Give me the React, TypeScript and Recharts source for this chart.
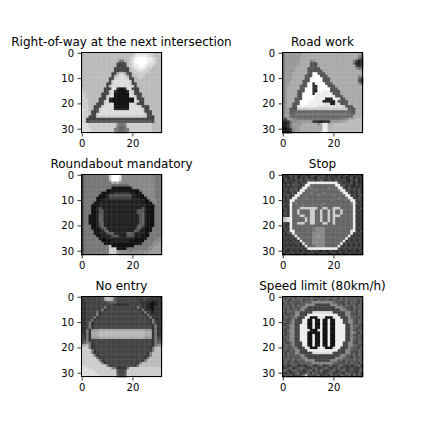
import React from 'react'
import { ScatterChart, Scatter, XAxis, YAxis } from 'recharts'

// 32x32 grey levels per sign, one hex digit per pixel (0 = black, f = white)
const rightOfWay = [
  'abbbbbbb bbbbbbbb bbbbbcdd dddccbbb',
  'abbbbbbb bbbbbbbb bbbbcdee eeddcbbb',
  'abbbbbbb bbbbbbbb bbbcdeff ffeedcbb',
  'abbbbbbb bbbbbbb7 7bbcdfff ffeedcbb',
  'abbbbbbb bbbbbb54 45bcdeff ffeddcbb',
  'abbbbbbb bbbbbb44 44bcdeef feddcbbb',
  'abbbbbbb bbbbb444 444bcdee edccbbbb',
  'abbbbbbb bbbbb445 544bccdd dccbbbbb',
  'abbbbbbb bbbb44ac ca44bccc ccbbbbbb',
  'abbbbbbb bbbb4acd dca4bbcc cbbbbbbb',
  'abbbbbbb bbb44cdd ddc44bbc bbbbbbbb',
  'abbbbbbb bbb4cddd dddc4bbb bbbbbbbb',
  'abbbbbbb bb44cddd dddc44bb bbbbbbbb',
  'abbbbbbb bb4cdddd ddddc4bb bbbbbbbb',
  'bbbbbbbb b444dd31 13dd444b bbbbbbbb',
  'cbbbbbbb b44cd311 113dc44b bbbbbbbb',
  'ccbbbbbb 444cd111 111dc444 bbbbbbbb',
  'ccbbbbbb 44cdd111 111ddc44 bbbbbbbb',
  'cccbbbb4 44d21111 11111d44 4bbbbbbb',
  'cccbbbb4 4cd21111 11111dc4 4bbbbbbb',
  'cccbbb44 4cddd111 111ddc44 4bbbbbbb',
  'cccbb444 cdddd111 111ddddc 444bbbbb',
  'dccbb44c ddddd222 222ddddd c44bbbbb',
  'dccb444c dddddddd dddddddd c444bbbb',
  'dccc44cd dddddddd dddddddd dc44bbbb',
  'dcc444cc cccccccc cccccccc cc444bbb',
  'dc444444 44444444 44444444 44444bbb',
  'dc455555 55555555 55555555 55554bbb',
  'dddccccc cccccc87 78cccccc ccccbbbb',
  'dddccccc cccccc76 67cccccc ccccbbbb',
  'ddddcccc ccccc776 677ccccc ccccbbbb',
  'ddddcccc ccccc876 678ccccc ccccbbba',
]

const roadWork = [
  '69999999 aaaaaaaa aaaaaaaa aaaaaaa8',
  '69999999 aaaaaaaa aaaaaaaa aaaaaa87',
  '6999999a aaaaaaaa aaaaaaaa aaaaaa75',
  '6999999a aaa88aaa aaaaaaaa aaaa8423',
  '6999999a aaa555aa aaaaaaaa aaaa6223',
  '699999aa aaa555aa aaaaaaaa aaaaa434',
  '69999aaa aa55555a aaaaaaaa aaaaa867',
  '69999aaa aa555555 aaaaaaaa aaaaaaa9',
  '6999aaaa aa55ff55 5aaaaaaa aaaaaaaa',
  '6999aaaa a555fff5 55aaaaaa aaaaaa89',
  '6999aaaa a55fffff 555aaaaa aaaaaa64',
  '699aaaaa 555fffff 555aaaaa aaaaaa53',
  '699aaaaa 55ff3fff f555aaaa aaaaaa86',
  '69aaaaa5 55ff33ff ff555aaa aaaaaaaa',
  '69aaaaa5 5fff33ff fff555aa aaaaaaaa',
  '69aaaa55 5fff32ff eee5555a aaaaaaaa',
  '69aaaa55 ffff3fee eeee555a aaaaaaaa',
  '69aaaa55 fffffeee eeeee555 aaaaaaaa',
  '69aaa555 fffffeee e222eed5 5aaaaaaa',
  '69aaa55f fffeeeee 22222d55 55aaaaaa',
  '69aa555f ffeeeeee edd22dd5 55aaaaaa',
  '69aa55ee eeeeeedd dddddddd c555aaaa',
  '699555cc cccccccc cccccccc cc555aaa',
  '69955666 66666666 66666666 66655aaa',
  '69966777 77777777 77777777 77766aaa',
  '69966666 66666666 66666666 6666aaaa',
  '44998877 77777777 77777777 88aaabbb',
  '22378899 99993322 23399999 aabbbbbb',
  '22379999 aaaaaa8a eeaabbbb bbbbbbbb',
  '1237999a aaaaaaaa eebbbbbb bbbbbbbb',
  '1124899a aaaaaaaa eebbbbbb bbbbbbbb',
  '2113899a aaaaaaab febbbbbb bbbbbbbb',
]

const roundabout = [
  '37777777 777cfffd 88888888 88888777',
  '37777777 777cfffd 88888888 88888777',
  '37777777 777bfffc 88888888 88888777',
  '37777777 7777a9a8 88888888 88888777',
  '37777777 77776666 66688888 88888777',
  '37777777 77771111 11117888 88888777',
  '37777777 77111111 11111117 88888777',
  '37777777 11122333 33322111 88888777',
  '37777771 11255555 55552211 18888777',
  '37777711 12244444 44442221 11888777',
  '37777711 22222222 22222222 21178877',
  '37777112 22222222 22222222 21117877',
  '37771112 22222222 22222222 22111777',
  '37771125 22222222 22222222 52111777',
  '37771125 52222222 22222255 52111777',
  '37771125 52222222 22222255 62111777',
  '37711126 52222222 22222225 62111777',
  '37711126 52222222 22222225 62111777',
  '37711126 52222222 22222225 62111777',
  '37711125 62222222 22222225 62111777',
  '37771125 62222222 22222256 52111777',
  '37771112 56222222 22222265 21117777',
  '37777112 25622222 22222652 21117777',
  '37777112 22566222 22665222 21177777',
  '37777711 22225552 22555222 11177777',
  '37777771 11222222 22222111 11777788',
  '37777777 11112222 22211111 17777888',
  '37777777 71111111 11111111 77778899',
  '37777777 777c1111 11111777 77788999',
  '37777777 777ccd11 11777777 77889999',
  '37777777 777ccc98 88878888 88899999',
  '37777777 777ccc98 88888888 89999999',
]

const stop = [
  '42353423 43245334 52343243 35234242',
  '34243524 35343254 43534352 42352434',
  '25343445 34544345 43443534 43243523',
  '33434534 45eeeeee eeeeee54 34352433',
  '43535443 4ee66666 66666ee4 53432433',
  '34344535 ee676666 667666ee 43534343',
  '3435453e e6666766 6666667e e4434353',
  '443453ee 66676666 76666666 ee434353',
  '34534ee6 66666676 66667666 6ee34345',
  '5344ee66 67666666 66666676 66ee4353',
  '434ee666 66666666 66676666 666ee343',
  '443e6766 66666666 76666666 6667e534',
  '534e6666 76666667 66666666 6666e343',
  '443e666c cccccc66 cc66ccc6 6666e435',
  '343e66c6 666cc66c 66c6c66c 6666e343',
  '453e66c6 666cc66c 66c6c66c 6666e434',
  '343e666c c66cc66c 66c6ccc6 6666e343',
  'bcde6666 6c6cc66c 66c6c666 6666e434',
  'bcde6666 6c6cc66c 66c6c666 6666e343',
  '443e66cc c66cc666 cc66c666 6666e434',
  '534e6666 66666666 66666666 6666e434',
  '443e6666 66667888 86666666 6666e343',
  '344ee666 66667888 86666666 666ee435',
  '4345e666 66668888 86666666 666e4343',
  '43435e66 66668898 86666666 66e43434',
  '343434e6 66668888 86666666 6e434343',
  '4343443e 66668888 86666666 e3434344',
  '34343443 e6668888 8666666e 34343434',
  '43434343 4e666888 866666e4 34343434',
  '34343434 34eeeeee eeeeee43 43434343',
  '43243342 43243432 42343243 34234234',
  '23434234 32434234 34234324 23432342',
]

const noEntry = [
  '34444444 4abba544 44444434 44433333',
  '34444444 49bb9544 44444443 44333333',
  '33444444 44566644 44444443 33321233',
  '33444444 44444333 33344444 33211233',
  '33444444 47344444 44444374 33211333',
  '33444444 73444444 44444443 73321333',
  '33444473 44444444 44444444 37332333',
  '33444473 44444444 44444444 43733333',
  '33444734 44444444 44444444 44373333',
  '33447344 44444444 44444444 44437333',
  '33473444 44444444 44444444 44437333',
  '33473444 44444444 44444444 44443733',
  '33473444 44444444 44444444 44443733',
  '3373999a aaaaaaaa aaaaaaaa a9993733',
  '3373aaab bbbbbbbb bbbbbbbb baaa3733',
  '4373aaab bbbbbbbb bbbbbbbb baaa3734',
  '4373999a aaaaaaaa aaaaaaaa a9993744',
  '45734444 44444444 44444444 44443755',
  '56873444 44444444 44444444 44443766',
  '9ab73444 44444444 44444444 44443788',
  'ccc73444 44444444 44444444 44437bbb',
  'cccc7344 44444444 44444444 44437bbb',
  'cccc7344 44444444 44444444 4437bbbb',
  'ccccc734 44444444 44444444 4437bbbb',
  'cccccc73 44444444 44444444 437bbbbb',
  'ccccccc7 34444444 44444444 37bbbbbb',
  'cccccccc 73444444 44444437 bbbbbbbb',
  'dccccccc cc734444 4444437b bbbbbbbb',
  'dddccccc cccc7733 337ccccc cccccccc',
  'dddddccc cccccc54 45cccccc cccccccc',
  'ddddddcc cccccc54 45cccccc cccccccc',
  'dddddddc cccccc64 46cccccc cccccccc',
]

const speed80 = [
  '54655465 56465546 45656546 56455465',
  '65546556 45565465 56546556 46556546',
  '56465546 56568888 88886554 56465546',
  '46556465 58888444 44488856 46556465',
  '55646556 88444444 44444888 65546556',
  '64655658 84444444 44444448 86546465',
  '54655884 4444dddd dddd4444 48855465',
  '55465884 44eeeeee eeeeee44 48855465',
  '46556844 4ed111de d111dee4 44865546',
  '55468444 ee11e11e 11e11eee 44885465',
  '55468444 ee11e11e 11e11eee 44885465',
  '5468844e ee11e11e 11e11eee e4485654',
  '6548844e ee11e11e 11e11eee e4486545',
  '5468844e eed111de 11e11eee e4485465',
  '6458844e ee11111e 11e11eee e4488546',
  '5468844e ee11e11e 11e11eee e4485465',
  '4658844e ee11e11e 11e11eee e4486554',
  '5468844e ee11e11e 11e11eee e4485465',
  '55468444 ee11e11e 11e11eee 44885465',
  '46568444 ee11e11e 11e11eee 44886554',
  '56556844 4ed111de d111dee4 44865546',
  '55465884 44eeeeee eeeeee44 48855465',
  '54655884 4444dddd dddd4444 48855465',
  '64655658 84444444 44444448 86546465',
  '55646556 88444444 44444888 65546556',
  '46556465 58888444 44488856 46556465',
  '56465546 56568888 88886554 56465546',
  '45346534 43564356 34563456 43534563',
  '34563456 54345634 56435463 54354345',
  '56345645 34563546 43456345 63454356',
  '43534563 45636545 34563454 36545363',
  '35463545 6c454563 45364536 54636454',
]

const titles = [
  'Right-of-way at the next intersection',
  'Road work',
  'Roundabout mandatory',
  'Stop',
  'No entry',
  'Speed limit (80km/h)',
]
const images = [rightOfWay, roadWork, roundabout, stop, noEntry, speed80]
const xTicks = [0, 20]
const yTicks = [0, 10, 20, 30]

const colLeft = [81, 282]
const rowTop = [52, 174, 296]
const SIZE = 81
const CELL = SIZE / 32
const FONT = 'DejaVu Sans, sans-serif'

function toCells(rows: string[]) {
  const cells: { x: number; y: number; v: number }[] = []
  rows.forEach((row, y) => {
    const s = row.replace(/ /g, '')
    for (let x = 0; x < 32; x++) {
      const ch = s[x] ?? s[s.length - 1]
      cells.push({ x, y, v: parseInt(ch, 16) })
    }
  })
  return cells
}

const gray = (v: number) => `rgb(${v * 17},${v * 17},${v * 17})`

function Panel({ rows, left, top }: { rows: string[]; left: number; top: number }) {
  const cells = toCells(rows)
  const tick = { fontSize: 10, fontFamily: FONT, fill: '#000' }
  return (
    <div style={{ position: 'absolute', left: left - 40, top: top - 10 }}>
      <ScatterChart width={131} height={116} margin={{ top: 10, right: 10, bottom: 0, left: 0 }}>
        <XAxis
          type="number"
          dataKey="x"
          domain={[-0.5, 31.5]}
          ticks={xTicks}
          interval={0}
          height={25}
          axisLine={false}
          tickLine={{ stroke: '#000', strokeWidth: 0.8 }}
          tickSize={3.5}
          tickMargin={3.5}
          tick={tick}
        />
        <YAxis
          type="number"
          dataKey="y"
          domain={[-0.5, 31.5]}
          reversed
          ticks={yTicks}
          interval={0}
          width={40}
          axisLine={false}
          tickLine={{ stroke: '#000', strokeWidth: 0.8 }}
          tickSize={3.5}
          tickMargin={3.5}
          tick={tick}
        />
        <Scatter
          data={cells}
          isAnimationActive={false}
          shape={(p: any) => (
            <rect
              x={p.cx - CELL / 2}
              y={p.cy - CELL / 2}
              width={CELL + 0.4}
              height={CELL + 0.4}
              fill={gray(p.payload.v)}
            />
          )}
        />
      </ScatterChart>
      <div
        style={{
          position: 'absolute',
          left: 40 - 0.4,
          top: 10 - 0.4,
          width: SIZE + 0.8,
          height: SIZE + 0.8,
          border: '0.8px solid #000',
          boxSizing: 'border-box',
          pointerEvents: 'none',
        }}
      />
    </div>
  )
}

export default function App() {
  return (
    <div style={{ position: 'absolute', left: 0, top: 0, width: 432, height: 432, background: '#fff' }}>
      {images.map((rows, i) => (
        <Panel key={i} rows={rows} left={colLeft[i % 2]} top={rowTop[Math.floor(i / 2)]} />
      ))}
      <svg width={432} height={432} style={{ position: 'absolute', left: 0, top: 0, pointerEvents: 'none' }}>
        {titles.map((t, i) => (
          <text
            key={t}
            x={colLeft[i % 2] + SIZE / 2}
            y={rowTop[Math.floor(i / 2)] - 6}
            textAnchor="middle"
            fontSize={12}
            fontFamily={FONT}
            fill="#000"
          >
            {t}
          </text>
        ))}
      </svg>
    </div>
  )
}
